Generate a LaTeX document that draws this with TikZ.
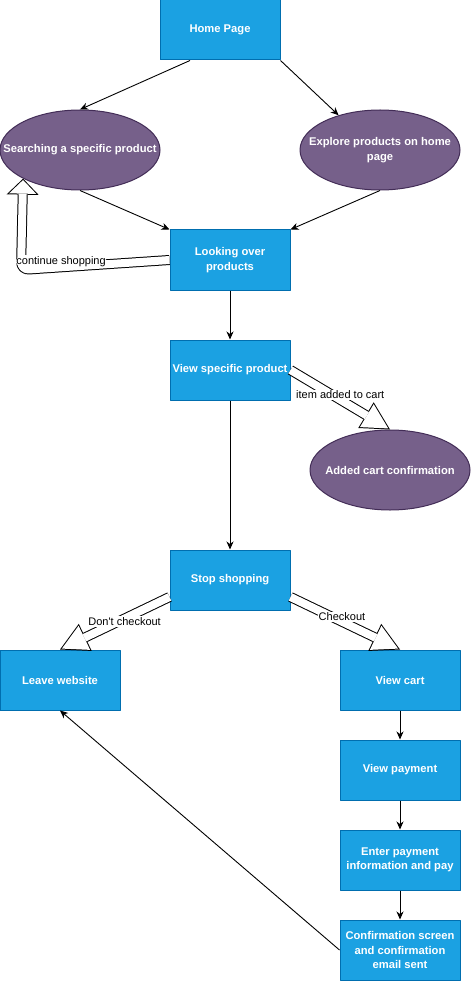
\documentclass[tikz,border=0pt]{standalone}
\usepackage{fontspec}
\setmainfont{Liberation Sans}
\usetikzlibrary{arrows.meta,shapes.geometric}
\definecolor{boxfill}{HTML}{1BA1E2}
\definecolor{boxline}{HTML}{006EAF}
\definecolor{ovalfill}{HTML}{76608A}
\definecolor{ovalline}{HTML}{432D57}
\newcommand{\boxfont}{\bfseries\fontsize{11.2}{14.4}\selectfont}
\tikzset{
	page/.style={rectangle,draw=boxline,fill=boxfill,line width=1pt,minimum width=120pt,minimum height=60pt,inner sep=2pt,text=white,align=center,font=\boxfont},
	oval/.style={ellipse,draw=ovalline,fill=ovalfill,line width=1pt,minimum width=160pt,minimum height=80pt,inner sep=0pt},
	ovaltext/.style={text=white,align=center,font=\boxfont},
	link/.style={line width=0.9pt,-{Stealth[length=8pt,width=7pt,inset=2.5pt]}},
	hollow/.style={line width=10pt,-{Triangle[width=30pt,length=28pt,line width=0pt]},
		postaction={draw=white,line width=8pt,-{Triangle[width=26.7pt,length=24.9pt,line width=0pt]},shorten >=2.1pt}},
	hollowshort/.style={line width=10pt,-{Triangle[width=32pt,length=16pt,line width=0pt]},
		postaction={draw=white,line width=8pt,-{Triangle[width=27.2pt,length=13.6pt,line width=0pt]},shorten >=1.4pt}},
	tag/.style={fill=white,inner sep=1pt,text=black,font=\fontsize{11}{13}\selectfont}
}
\begin{document}
\begin{tikzpicture}[line join=round,x=1pt,y=-1pt]
	\useasboundingbox (0,0) rectangle (471,981);
	\node[page] (home) at (220,30) {Home Page};
	\node[oval,label={[ovaltext]center:Searching a specific product}] (search) at (80,150) {};
	\node[oval,label={[ovaltext]center:Explore products on home\\page}] (explore) at (380,150) {};
	\node[page] (look) at (230,260) {Looking over\\products};
	\node[page] (prod) at (230,370) {View specific product};
	\node[oval,label={[ovaltext]center:Added cart confirmation}] (added) at (390,470) {};
	\node[page] (stop) at (230,580) {Stop shopping};
	\node[page] (leave) at (60,680) {Leave website};
	\node[page] (cart) at (400,680) {View cart};
	\node[page] (pay) at (400,770) {View payment};
	\node[page] (enter) at (400,860) {Enter payment\\information and pay};
	\node[page] (confirm) at (400,950) {Confirmation screen\\and confirmation\\email sent};
	\coordinate (turn) at (21,270);

	\draw[link] ([xshift=-30pt]home.south) -- (search.north);
	\draw[link] (home.south east) -- (explore.140);
	\draw[link] (search.south) -- (look.north west);
	\draw[link] (explore.south) -- (look.north east);
	\draw[link] (look.south) -- (prod.north);
	\draw[link] (prod.south) -- (stop.north);
	\draw[link] (cart.south) -- (pay.north);
	\draw[link] (pay.south) -- (enter.north);
	\draw[link] (enter.south) -- (confirm.north);
	\draw[link] (confirm.west) -- (leave.south);

	\draw[hollowshort,rounded corners=8pt] (look.west) -- node[tag,pos=0.73,yshift=6pt] {continue shopping} (turn) -- (search.south west);
	\draw[hollow] (prod.east) -- node[tag,yshift=5pt] {item added to cart} (added.north);
	\draw[hollow] ([yshift=-17pt]stop.west) -- node[tag,pos=0.41,yshift=-3pt] {Don\textquotesingle t checkout} (leave.north);
	\draw[hollow] ([yshift=-17pt]stop.east) -- node[tag,pos=0.47,yshift=5pt] {Checkout} (cart.north);
\end{tikzpicture}
\end{document}
